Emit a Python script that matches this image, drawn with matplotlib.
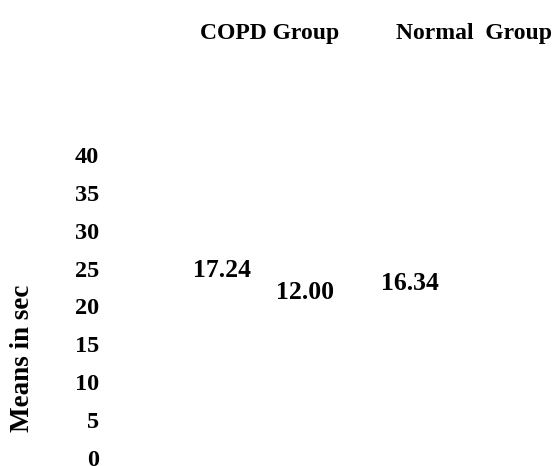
import matplotlib
matplotlib.use("Agg")
import matplotlib.pyplot as plt

groups = ["COPD Group", "Normal  Group"]
bar_x = [-0.22, 0.22, 0.78]
bar_values = [17.24, 12.00, 16.34]
bar_labels = ["17.24", "12.00", "16.34"]
label_y = [24.8, 21.9, 23.0]
header_x = [0.03, 1.12]
yticks = [0, 5, 10, 15, 20, 25, 30, 35, 40]

plt.rcParams['font.family'] = ['Liberation Serif', 'DejaVu Serif']
plt.rcParams['font.weight'] = 'bold'

fig = plt.figure(figsize=(5.56, 4.66), dpi=100)
ax = fig.add_axes([110/556, (466-458)/466, 446/556, 303/466])

ax.bar(bar_x, bar_values, width=0.4, color='white')
for x, y, t in zip(bar_x, label_y, bar_labels):
    ax.text(x, y, t, ha='center', va='center', fontsize=18.5, fontweight='bold')

ax.set_xlim(-0.82, 1.56)
ax.set_ylim(0, 40)
ax.set_yticks(yticks)
ax.set_yticklabels([str(v) for v in yticks], fontsize=17.5, fontweight='bold')
ax.tick_params(axis='y', length=0, pad=8)

ax.xaxis.tick_top()
ax.set_xticks(header_x)
ax.set_xticklabels(groups, fontsize=17, fontweight='bold')
ax.tick_params(axis='x', length=0, pad=80)

ax.set_ylabel("Means in sec", fontsize=19.5, fontweight='bold')
ax.yaxis.set_label_coords(-0.168, 0.33)

for s in ax.spines.values():
    s.set_visible(False)

fig.savefig("out.png", dpi=100)
